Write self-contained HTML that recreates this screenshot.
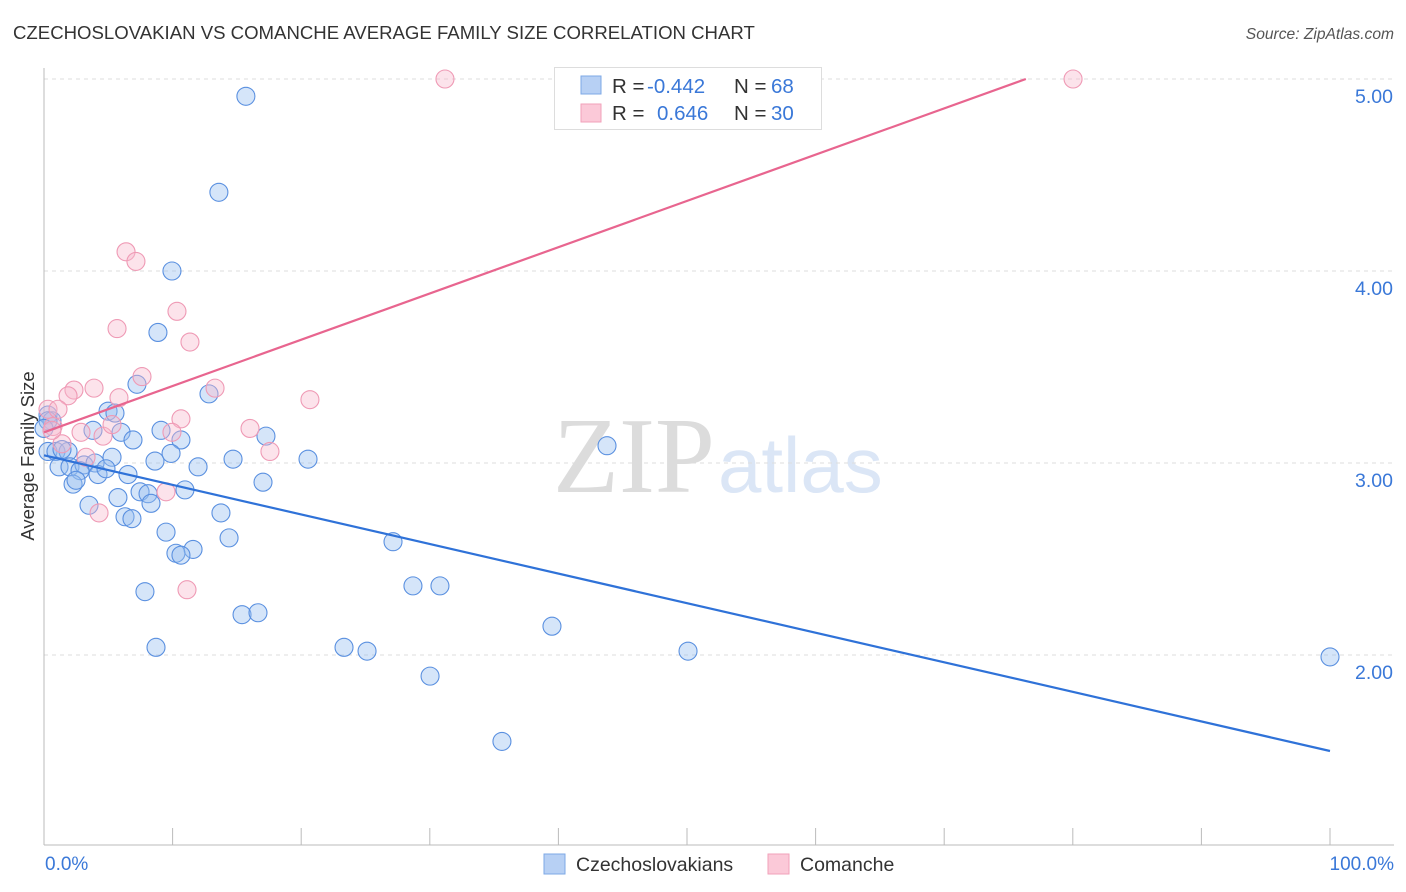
<!DOCTYPE html>
<html><head><meta charset="utf-8">
<style>
body{margin:0;background:#fff;font-family:"Liberation Sans",sans-serif;}
#wrap{position:relative;width:1406px;height:892px;overflow:hidden;}
</style></head>
<body>
<div id="wrap">
<svg id="svg" width="1406" height="892" xmlns="http://www.w3.org/2000/svg">
<text x="13" y="39" font-size="18.6" fill="#333">CZECHOSLOVAKIAN VS COMANCHE AVERAGE FAMILY SIZE CORRELATION CHART</text>
<text x="1394" y="39" font-size="15.6" fill="#555" font-style="italic" text-anchor="end">Source: ZipAtlas.com</text>
<text x="553" y="492" font-family="Liberation Serif,serif" font-size="108" fill="#dcdcdc">ZIP</text>
<text x="718" y="492" font-size="78" fill="#dbe6f6">atlas</text>
<g id="grid"></g>
<g id="axes"></g>
<g id="pts"></g>
<g id="lines"></g>
<text transform="translate(34,456) rotate(-90)" font-size="18.5" fill="#333" text-anchor="middle">Average Family Size</text>
<g>
<rect x="554.5" y="67.5" width="267" height="62" fill="#fff" stroke="#ddd"/>
<rect x="581" y="76" width="20" height="18" fill="#b7d0f4" stroke="#7ea8e6"/>
<rect x="581" y="104" width="20" height="18" fill="#fbc9d8" stroke="#f1a1ba"/>
<text x="612" y="93" font-size="20.5" fill="#333">R =</text>
<text x="647" y="93" font-size="20.5" fill="#3a78d8">-0.442</text>
<text x="734" y="93" font-size="20.5" fill="#333">N =</text>
<text x="771" y="93" font-size="20.5" fill="#3a78d8">68</text>
<text x="612" y="120" font-size="20.5" fill="#333">R =</text>
<text x="657" y="120" font-size="20.5" fill="#3a78d8">0.646</text>
<text x="734" y="120" font-size="20.5" fill="#333">N =</text>
<text x="771" y="120" font-size="20.5" fill="#3a78d8">30</text>
</g>
<text x="45" y="870" font-size="19" fill="#3a78d8">0.0%</text>
<text x="1394" y="870" font-size="19" fill="#3a78d8" text-anchor="end">100.0%</text>
<g>
<rect x="544" y="854" width="21" height="20" fill="#b7d0f4" stroke="#7ea8e6"/>
<text x="576" y="871" font-size="19.5" fill="#333">Czechoslovakians</text></g>
<g>
<rect x="768" y="854" width="21" height="20" fill="#fbc9d8" stroke="#f1a1ba"/>
<text x="800" y="871" font-size="19.5" fill="#333">Comanche</text></g>
</svg>
</div>
<script>
const blueX=[15.7,13.6,9.95,8.86,7.23,12.83,4.98,5.52,0.31,0.62,3.81,5.99,6.92,9.10,10.65,17.26,0.31,0.93,1.87,1.40,5.29,14.70,20.53,8.63,9.88,1.17,2.02,3.11,3.97,2.80,4.20,4.82,6.53,11.98,17.03,2.26,2.49,10.96,7.47,8.09,5.75,8.32,3.50,6.30,6.84,13.76,9.49,14.39,11.59,10.26,10.65,27.14,7.85,28.69,30.79,15.40,16.64,8.71,23.33,25.12,30.02,39.50,50.08,35.61,100,43.78,0.31,0];
const blueY=[4.91,4.41,4.00,3.68,3.41,3.36,3.27,3.26,3.25,3.22,3.17,3.16,3.12,3.17,3.12,3.14,3.06,3.06,3.06,3.07,3.03,3.02,3.02,3.01,3.05,2.98,2.98,2.99,3.00,2.96,2.94,2.97,2.94,2.98,2.90,2.89,2.91,2.86,2.85,2.84,2.82,2.79,2.78,2.72,2.71,2.74,2.64,2.61,2.55,2.53,2.52,2.59,2.33,2.36,2.36,2.21,2.22,2.04,2.04,2.02,1.89,2.15,2.02,1.55,1.99,3.09,3.22,3.18];
const pinkX=[31.18,80.02,6.38,7.15,10.34,5.68,11.35,7.62,3.89,2.33,1.87,13.30,5.83,20.68,0.31,1.09,0.70,1.40,10.65,9.95,4.59,5.29,2.88,16.02,17.57,3.27,9.49,4.28,11.12,0.62];
const pinkY=[5.00,5.00,4.10,4.05,3.79,3.70,3.63,3.45,3.39,3.38,3.35,3.39,3.34,3.33,3.28,3.28,3.19,3.10,3.23,3.16,3.14,3.20,3.16,3.18,3.06,3.03,2.85,2.74,2.34,3.17];
const blueTrend=[3.04,1.50];
const pinkTrend=[3.16,0.0241];
const yTicks=[5,4,3,2];
const yTickLabels=["5.00","4.00","3.00","2.00"];
const xTicks=[0,10,20,30,40,50,60,70,80,90,100];

const NS="http://www.w3.org/2000/svg";
const X=v=>44+v*12.86;
const Y=v=>79+(5-v)*192;
function mk(tag,attrs,parent){const e=document.createElementNS(NS,tag);for(const k in attrs)e.setAttribute(k,attrs[k]);document.getElementById(parent).appendChild(e);return e;}

yTicks.forEach((t,i)=>{
  const g=mk('line',{x1:44,x2:1394,y1:Y(t),y2:Y(t),stroke:'#ddd','stroke-dasharray':'4,4'},'grid');
  
  
  const l=mk('text',{x:1393,y:Y(t)+24,'font-size':19.5,fill:'#3a78d8','text-anchor':'end'},'grid');
  l.textContent=yTickLabels[i];
  
  
});
const ax=mk('line',{x1:44,x2:44,y1:68,y2:845,stroke:'#bbb'},'axes');


const bx=mk('line',{x1:44,x2:1394,y1:845,y2:845,stroke:'#bbb'},'axes');


xTicks.forEach(t=>{
  const k=mk('line',{x1:X(t),x2:X(t),y1:828,y2:845,stroke:'#bbb'},'axes');
  
  
});
blueX.forEach((x,i)=>{
  const c=mk('circle',{cx:X(x),cy:Y(blueY[i]),r:9,fill:'rgba(150,190,240,0.4)',stroke:'#5a90e0','stroke-width':1.1},'pts');
  
  
});
pinkX.forEach((x,i)=>{
  const c=mk('circle',{cx:X(x),cy:Y(pinkY[i]),r:9,fill:'rgba(248,185,205,0.4)',stroke:'#ef9ab5','stroke-width':1.1},'pts');
  
  
});
const bl=mk('line',{x1:X(0),y1:Y(blueTrend[0]),x2:X(100),y2:Y(blueTrend[1]),stroke:'#2f72d8','stroke-width':2.2},'lines');


const pEnd=Math.min(100,(5-pinkTrend[0])/pinkTrend[1]);
const pl=mk('line',{x1:X(0),y1:Y(pinkTrend[0]),x2:X(pEnd),y2:Y(pinkTrend[0]+pinkTrend[1]*pEnd),stroke:'#e8658f','stroke-width':2.2},'lines');


</script>
</body></html>
